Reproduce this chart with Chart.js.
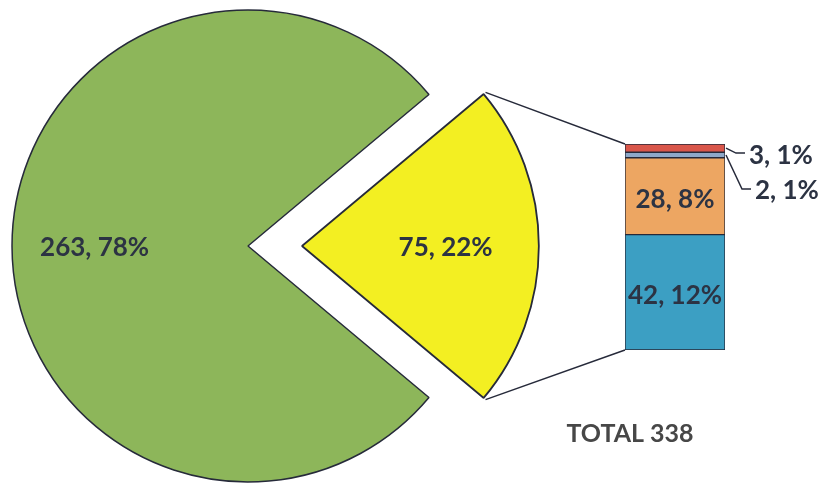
<!DOCTYPE html>
<html>
<head>
<meta charset="utf-8">
<script src="https://cdn.jsdelivr.net/npm/chart.js@4/dist/chart.umd.min.js"></script>
<style>
    html, body { margin: 0; padding: 0; background: #fff; }
    #wrap { position: relative; width: 836px; height: 489px; }
    #wrap canvas { position: absolute; left: 0; top: 0; }
</style>
</head>
<body>
<div id="wrap">
    <canvas id="pie" width="836" height="489"></canvas>
    <canvas id="bar" width="836" height="489"></canvas>
</div>
<script>
// main pie: the big slice and the slice that is split out into the bar
const pieLabels = ['Main', 'Rest'];
const pieValues = [263, 75];
const pieColors = ['#8db65a', '#f3ef22'];

// stacked bar, bottom to top
const barLabels = ['A', 'B', 'C', 'D'];
const barValues = [42, 28, 2, 3];
const barColors = ['#3c9fc3', '#eda662', '#8ea9c9', '#d9564a'];

const edgeColor = '#262a3a';
const textColor = '#2c3343';
const labelFont = 'bold 26px Lato';

const total = pieValues.reduce((a, b) => a + b, 0);

function pct(v) {
    return Math.round(v / total * 100) + '%';
}

// where the arc really sits once Chart.js applies the offset
function arcGeometry(arc) {
    const off = arc.options.offset || 0;
    const mid = (arc.startAngle + arc.endAngle) / 2;
    const shift = off / 4;
    const fix = 1 - Math.sin(Math.min(Math.PI, arc.circumference));
    return {
        x: arc.x + Math.cos(mid) * shift,
        y: arc.y + Math.sin(mid) * shift,
        r: arc.outerRadius + off * fix,
        mid: mid
    };
}

const pieLabelPlugin = {
    id: 'pieLabels',
    afterDatasetsDraw(chart) {
        const ctx = chart.ctx;
        const meta = chart.getDatasetMeta(0);
        const labelPos = [0.65, 0.6];
        ctx.save();
        ctx.font = labelFont;
        ctx.fillStyle = textColor;
        ctx.textAlign = 'center';
        ctx.textBaseline = 'middle';
        meta.data.forEach((arc, i) => {
            const g = arcGeometry(arc);
            const d = g.r * labelPos[i];
            ctx.fillText(pieValues[i] + ', ' + pct(pieValues[i]),
                g.x + Math.cos(g.mid) * d, g.y + Math.sin(g.mid) * d + 2);
        });
        ctx.restore();
    }
};

const pieChart = new Chart(document.getElementById('pie'), {
    type: 'pie',
    data: {
        labels: pieLabels,
        datasets: [{
            data: pieValues,
            backgroundColor: pieColors,
            borderColor: edgeColor,
            borderWidth: [1.5, 1.8],
            offset: [0, 216]
        }]
    },
    options: {
        responsive: false,
        animation: false,
        radius: 236,
        rotation: 90 + 180 * pieValues[1] / total,
        layout: { padding: { left: 10, right: 350, top: 8, bottom: 5 } },
        plugins: {
            legend: { display: false },
            tooltip: { enabled: false }
        }
    },
    plugins: [pieLabelPlugin]
});

const barLabelPlugin = {
    id: 'barLabels',
    afterDatasetsDraw(chart) {
        const ctx = chart.ctx;
        const bars = barValues.map((v, i) => chart.getDatasetMeta(i).data[0]);
        const first = bars[0];
        const left = first.x - first.width / 2;
        const right = first.x + first.width / 2;
        const bottom = first.base;
        const top = bars[bars.length - 1].y;

        ctx.save();
        ctx.strokeStyle = edgeColor;
        ctx.lineWidth = 1.5;

        // connectors from the split slice to the bar
        const arc = pieChart.getDatasetMeta(0).data[1];
        const g = arcGeometry(arc);
        ctx.beginPath();
        ctx.moveTo(g.x + Math.cos(arc.startAngle) * g.r, g.y + Math.sin(arc.startAngle) * g.r);
        ctx.lineTo(left, top);
        ctx.moveTo(g.x + Math.cos(arc.endAngle) * g.r, g.y + Math.sin(arc.endAngle) * g.r);
        ctx.lineTo(left, bottom);
        ctx.stroke();

        ctx.font = labelFont;
        ctx.fillStyle = textColor;
        ctx.textBaseline = 'middle';

        bars.forEach((bar, i) => {
            const text = barValues[i] + ', ' + pct(barValues[i]);
            const cy = (bar.y + bar.base) / 2;
            if (i < 2) {
                ctx.textAlign = 'center';
                ctx.fillText(text, bar.x, cy + 3);
                return;
            }
            // small segments get a leader line and an outside label
            const drop = i === 2 ? 34 : 5;
            const run = i === 2 ? 17 : 11;
            ctx.beginPath();
            ctx.moveTo(right + 1, cy);
            ctx.lineTo(right + run, cy + drop);
            ctx.lineTo(right + run + 9, cy + drop);
            ctx.stroke();
            ctx.textAlign = 'left';
            ctx.fillText(text, right + run + 13, cy + drop + 2);
        });

        ctx.textAlign = 'center';
        ctx.font = 'bold 25px Lato';
        ctx.fillStyle = '#474747';
        ctx.fillText('TOTAL ' + total, left + 5, bottom + 84);
        ctx.restore();
    }
};

new Chart(document.getElementById('bar'), {
    type: 'bar',
    data: {
        labels: [''],
        datasets: barValues.map((v, i) => ({
            label: barLabels[i],
            data: [v],
            backgroundColor: barColors[i],
            borderColor: edgeColor,
            borderWidth: 1,
            borderSkipped: false,
            barPercentage: 1,
            categoryPercentage: 1
        }))
    },
    options: {
        responsive: false,
        animation: false,
        layout: { padding: { left: 625, right: 111, top: 144, bottom: 139 } },
        scales: {
            x: { display: false, stacked: true },
            y: { display: false, stacked: true, min: 0, max: pieValues[1] }
        },
        plugins: {
            legend: { display: false },
            tooltip: { enabled: false }
        }
    },
    plugins: [barLabelPlugin]
});
</script>
</body>
</html>
